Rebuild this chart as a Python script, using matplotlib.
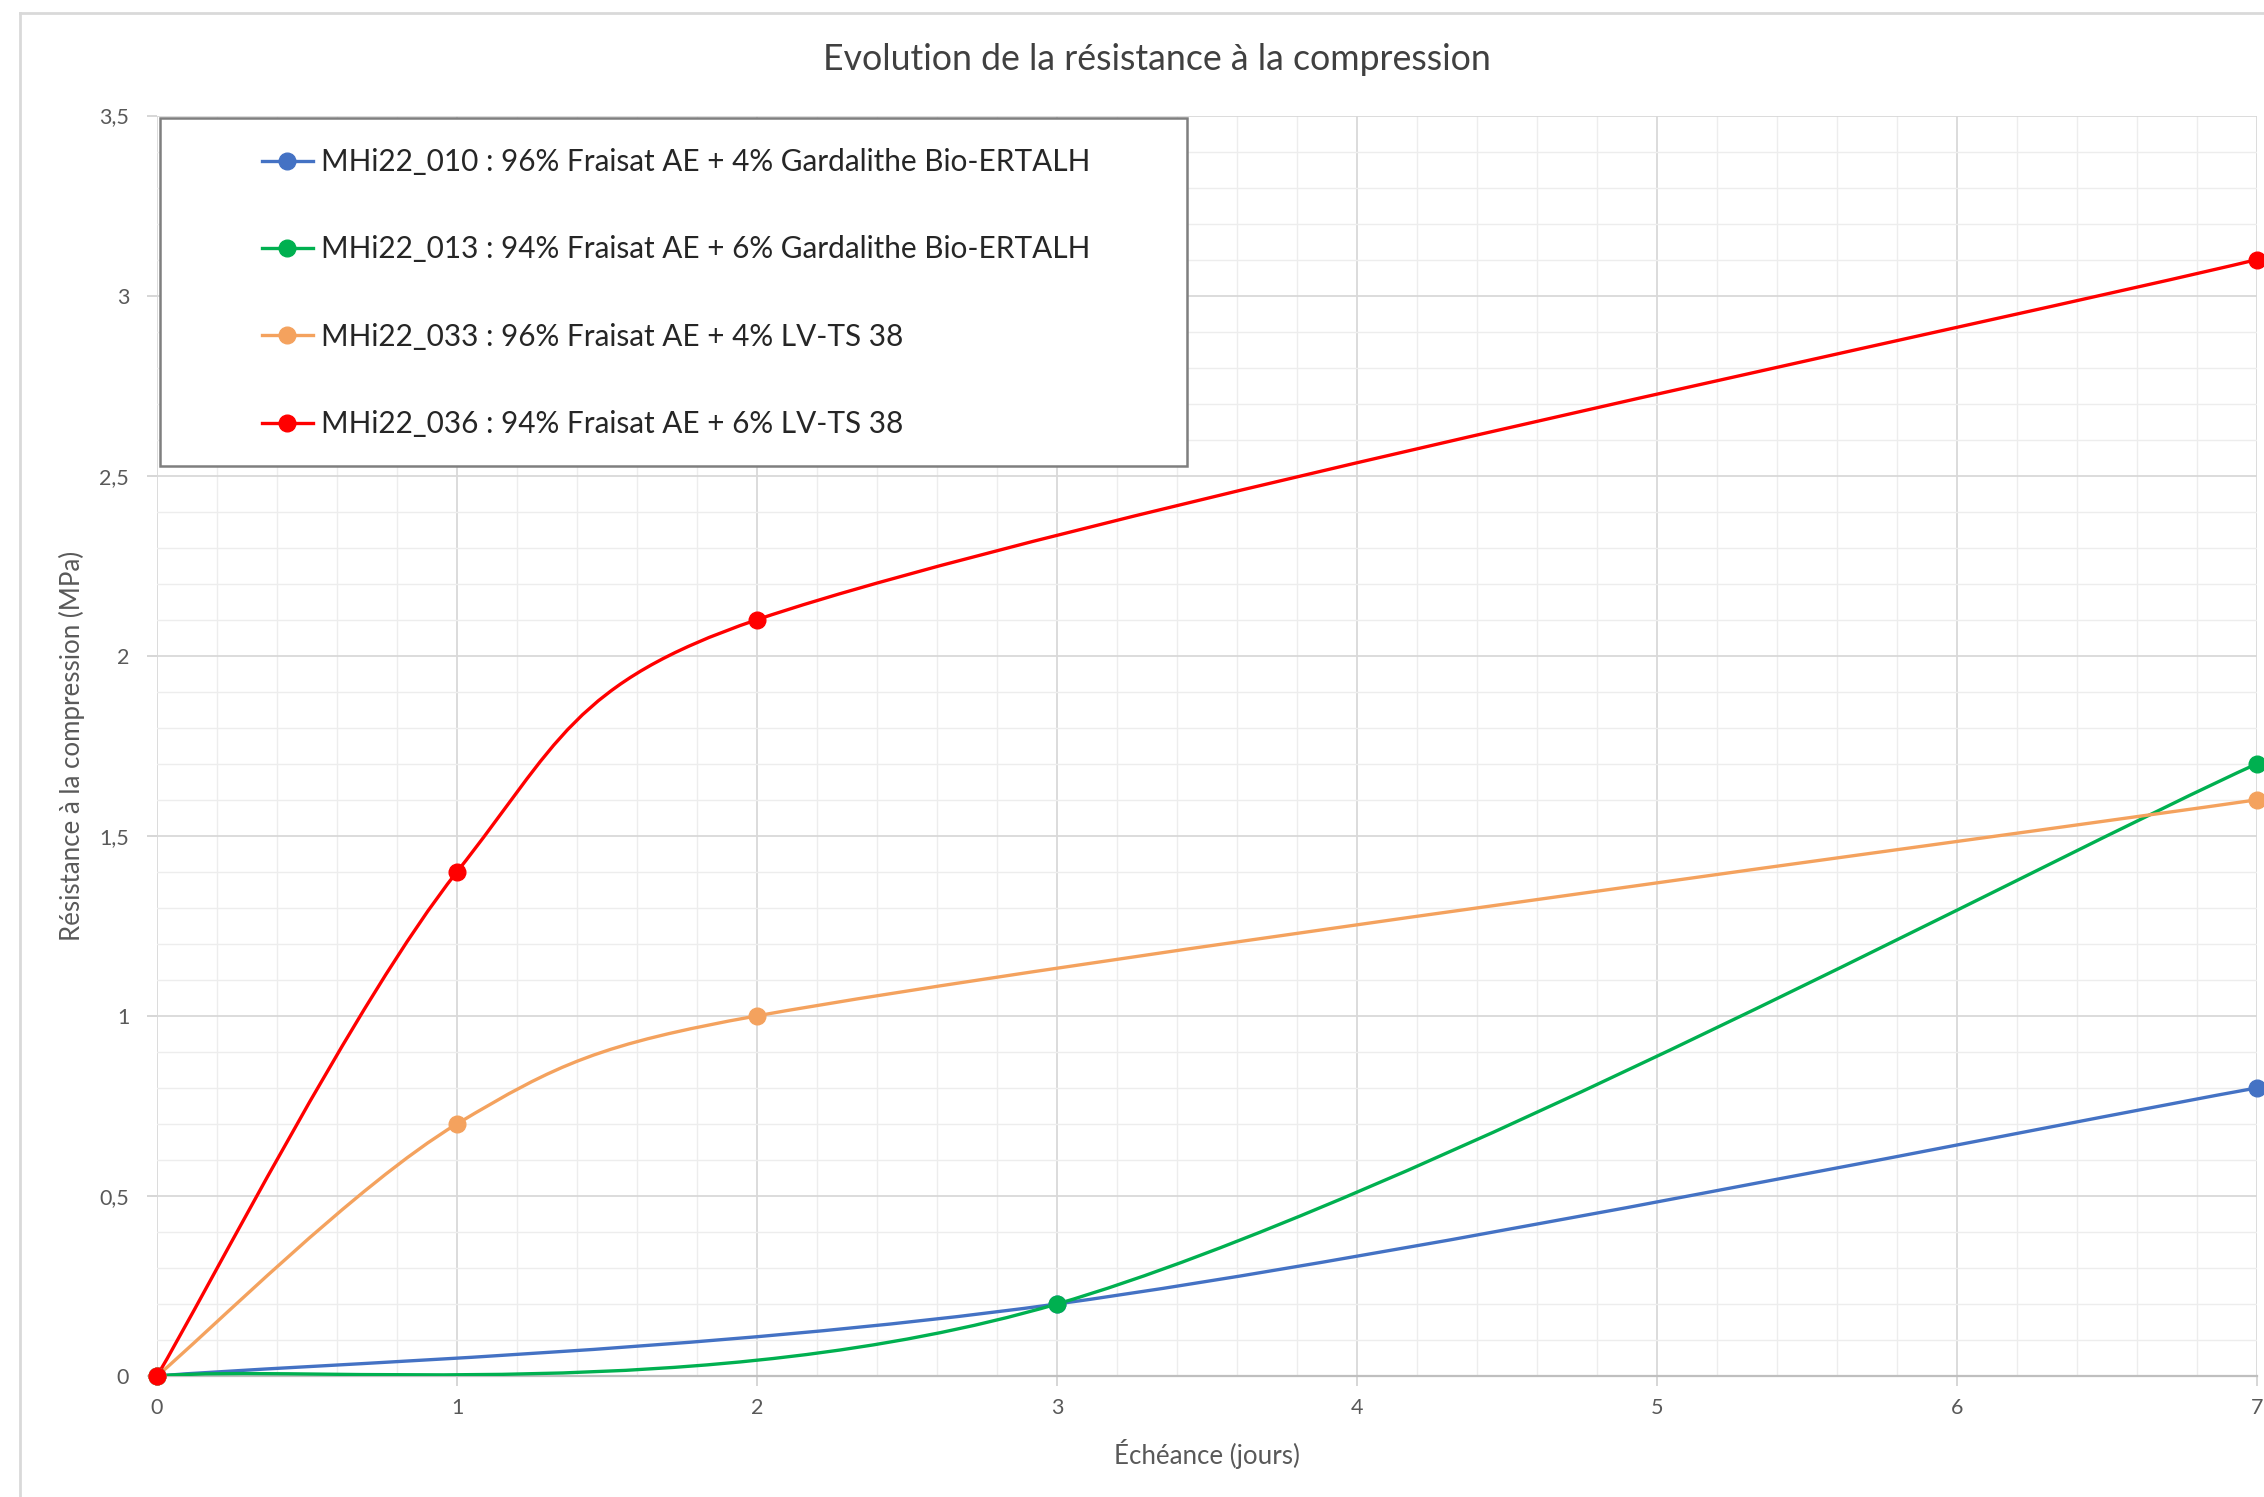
import numpy as np
import matplotlib
matplotlib.use("Agg")
import matplotlib.pyplot as plt
from matplotlib.path import Path
from matplotlib.patches import PathPatch, Rectangle
from matplotlib.lines import Line2D
from matplotlib.ticker import MultipleLocator, FuncFormatter

plt.rcParams["font.family"] = ["Lato", "DejaVu Sans"]

# Data (age in days, compressive strength in MPa)
days_010 = [0, 3, 7]
res_010 = [0, 0.2, 0.8]
days_013 = [0, 3, 7]
res_013 = [0, 0.2, 1.7]
days_033 = [0, 1, 2, 7]
res_033 = [0, 0.7, 1.0, 1.6]
days_036 = [0, 1, 2, 7]
res_036 = [0, 1.4, 2.1, 3.1]

labels = [
    "MHi22_010 : 96% Fraisat AE + 4% Gardalithe Bio-ERTALH",
    "MHi22_013 : 94% Fraisat AE + 6% Gardalithe Bio-ERTALH",
    "MHi22_033 : 96% Fraisat AE + 4% LV-TS 38",
    "MHi22_036 : 94% Fraisat AE + 6% LV-TS 38",
]
colors = ["#4472C4", "#00B050", "#F4A25E", "#FF0000"]
series = [(days_010, res_010), (days_013, res_013),
          (days_033, res_033), (days_036, res_036)]

W, H = 2264, 1497
fig = plt.figure(figsize=(W / 100, H / 100), dpi=100)
ax = fig.add_axes([157 / W, 1 - 1376 / H, 2100 / W, 1260.5 / H])
ax.set_xlim(0, 7)
ax.set_ylim(0, 3.5)


def smooth_path(xs, ys):
    # bezier smoothing similar to spreadsheet "smoothed line"
    pts = np.column_stack([xs, ys]).astype(float)
    scr = ax.transData.transform(pts)
    n = len(pts)
    verts = [pts[0]]
    codes = [Path.MOVETO]
    for i in range(n - 1):
        i0 = max(i - 1, 0)
        i3 = min(i + 2, n - 1)
        p0, p1, p2, p3 = pts[i0], pts[i], pts[i + 1], pts[i3]
        s0, s1, s2, s3 = scr[i0], scr[i], scr[i + 1], scr[i3]
        d12 = np.hypot(*(s2 - s1))
        d02 = np.hypot(*(s2 - s0))
        d13 = np.hypot(*(s3 - s1))
        f1 = 1 / 6 if d02 / 6 < d12 / 2 else d12 / (2 * d02)
        f2 = 1 / 6 if d13 / 6 < d12 / 2 else d12 / (2 * d13)
        verts += [p1 + f1 * (p2 - p0), p2 - f2 * (p3 - p1), p2]
        codes += [Path.CURVE4] * 3
    return Path(verts, codes)


for (xs, ys), c in zip(series, colors):
    ax.add_patch(PathPatch(smooth_path(xs, ys), fill=False, edgecolor=c,
                           lw=2.4, zorder=4, capstyle="round"))
    ax.plot(xs, ys, linestyle="none", marker="o", ms=12, color=c,
            zorder=5, clip_on=False)

# grid and axes
ax.xaxis.set_major_locator(MultipleLocator(1))
ax.xaxis.set_minor_locator(MultipleLocator(0.2))
ax.yaxis.set_major_locator(MultipleLocator(0.5))
ax.yaxis.set_minor_locator(MultipleLocator(0.1))
ax.grid(which="major", color="#D9D9D9", lw=1.3, zorder=0)
ax.grid(which="minor", color="#EDEDED", lw=1.0, zorder=0)
ax.set_axisbelow(True)
for s in ["top", "right", "left"]:
    ax.spines[s].set_visible(False)
ax.spines["bottom"].set_color("#BFBFBF")
ax.spines["bottom"].set_linewidth(1.6)
ax.yaxis.set_major_formatter(FuncFormatter(lambda v, p: ("%g" % v).replace(".", ",")))
ax.tick_params(which="major", length=7, width=1.2, color="#D0D0D0",
               labelsize=15.5, labelcolor="#595959")
ax.tick_params(axis="x", pad=9)
ax.tick_params(axis="y", pad=13)
ax.tick_params(which="minor", length=0)

ax.set_xlabel("Échéance (jours)", fontsize=18.6, color="#595959", va="center")
ax.xaxis.set_label_coords(0.5, -(1454 - 1376) / 1260.5)
ax.set_ylabel("Résistance à la compression (MPa)", fontsize=18.6,
              color="#595959", va="center")
ax.yaxis.set_label_coords((72 - 157) / 2100, 0.5)

fig.text(1157 / W, 1 - 60 / H, "Evolution de la résistance à la compression",
         ha="center", va="center", fontsize=25.7, color="#404040")

# legend box
ax.add_patch(Rectangle((3 / 2100, (1376 - 466) / 1260.5), 1027 / 2100, 348 / 1260.5,
                       transform=ax.transAxes, facecolor="white",
                       edgecolor="#7F7F7F", lw=1.8, zorder=6))
handles = [Line2D([], [], color=c, lw=2.4, marker="o", ms=12) for c in colors]
leg = ax.legend(handles, labels, loc="upper left",
                bbox_to_anchor=((262 - 157) / 2100, (1376 - 148) / 1260.5),
                frameon=False, fontsize=21.4, handlelength=1.7,
                handletextpad=0.3, labelspacing=2.0, borderpad=0,
                borderaxespad=0)
leg.set_zorder(7)
for t in leg.get_texts():
    t.set_color("#262626")

# chart area border
fig.add_artist(Line2D([20 / W, 20 / W], [0, 1 - 13 / H], transform=fig.transFigure,
                      color="#D9D9D9", lw=2))
fig.add_artist(Line2D([20 / W, 1], [1 - 13 / H, 1 - 13 / H], transform=fig.transFigure,
                      color="#D9D9D9", lw=2))

fig.savefig("out.png", dpi=100, facecolor="white")
